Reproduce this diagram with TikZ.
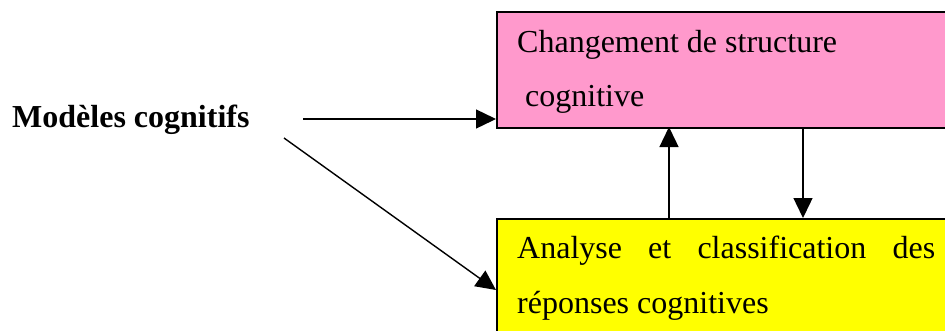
\documentclass[tikz,border=0pt]{standalone}
\usepackage{fontspec}
\setmainfont{Liberation Serif}
\usetikzlibrary{arrows.meta}
\definecolor{boxpink}{HTML}{FF99CC}
\definecolor{boxyellow}{HTML}{FFFF00}
\begin{document}
\begin{tikzpicture}[x=1pt,y=-1pt,
  boxst/.style={draw=black,line width=1.6pt,anchor=north west,inner sep=0pt,minimum width=470pt},
  txt/.style={anchor=base west,inner sep=0pt,font=\fontsize{32}{39}\selectfont},
  conn/.style={line width=1.4pt,-{Triangle[length=20pt,width=19pt]}}]
\useasboundingbox (0,0) rectangle (945,330);
\clip (0,0) rectangle (945,330);
\node[boxst,fill=boxpink,minimum height=116pt] (pink) at (496,11) {};
\node[boxst,fill=boxyellow,minimum height=130pt] (yellow) at (496,218) {};
\node[txt] (t1) at (517,52) {Changement de structure};
\node[txt] (t2) at (517,106) {\ cognitive};
\node[txt] (t3) at (517,258) {\hbox to 418pt{Analyse\hfil et\hfil classification\hfil des}};
\node[txt] (t4) at (517,313) {réponses cognitives};
\node[txt,font=\fontsize{32}{39}\selectfont\bfseries] (mc) at (12,127) {Modèles cognitifs};
\coordinate (h0) at (303,119);
\coordinate (h1) at (496,119);
\coordinate (d0) at (284,138);
\coordinate (d1) at (496,290);
\coordinate (u0) at (669,218);
\coordinate (u1) at (669,127);
\coordinate (w0) at (803,127);
\coordinate (w1) at (803,218);
\draw[conn] (h0) -- (h1);
\draw[conn] (d0) -- (d1);
\draw[conn] (u0) -- (u1);
\draw[conn] (w0) -- (w1);
\end{tikzpicture}
\end{document}
